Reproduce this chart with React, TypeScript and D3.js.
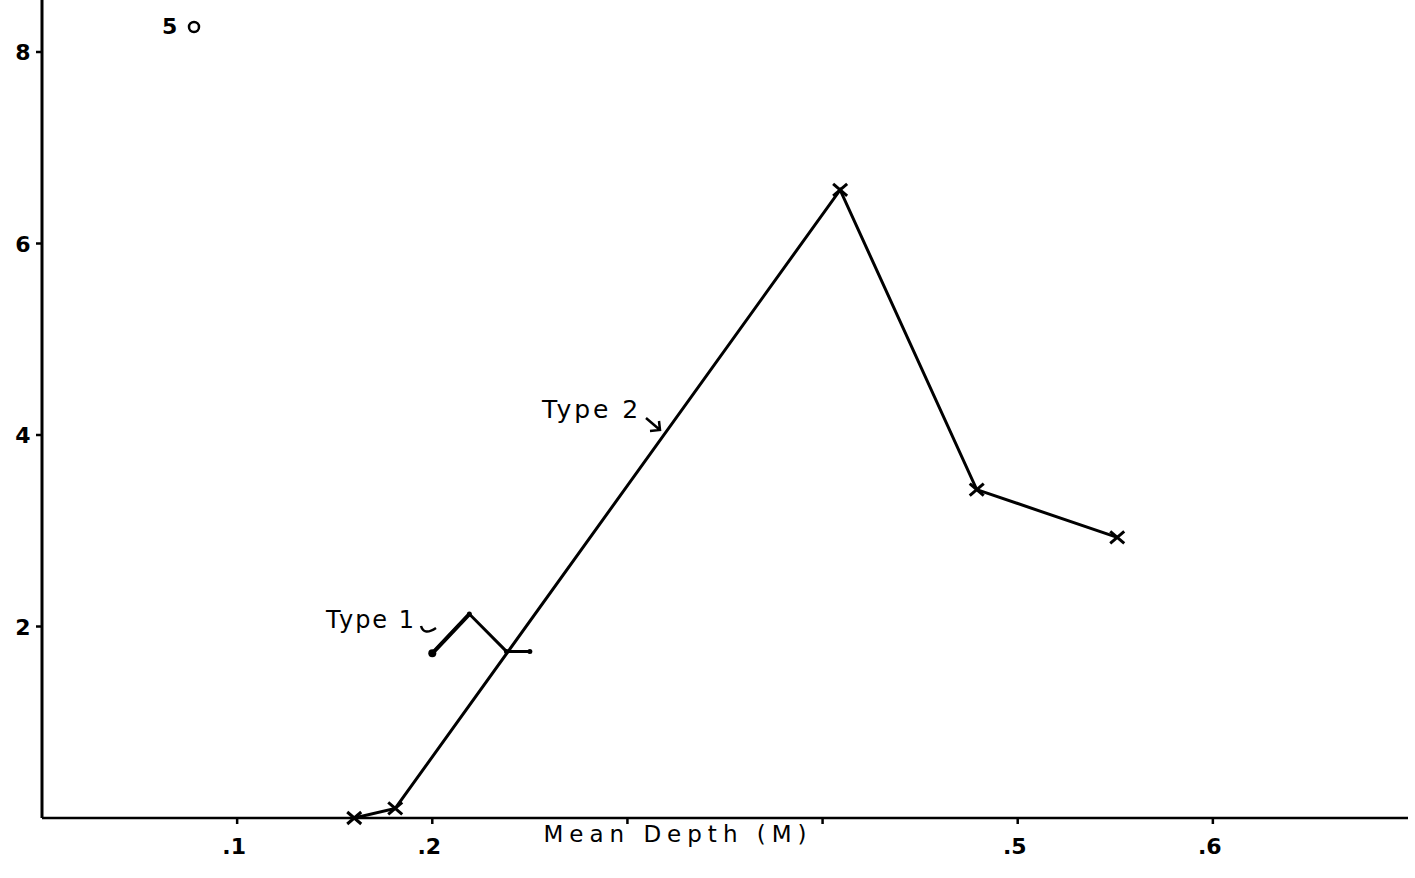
import React from "react";
import * as d3 from "d3";

// Type 2 curve (mean depth in M, value)
const type2Depth = [0.16, 0.181, 0.409, 0.479, 0.551];
const type2Value = [0.0, 0.1, 6.56, 3.43, 2.93];

// Type 1 short curve
const type1Depth = [0.2, 0.219, 0.238, 0.25];
const type1Value = [1.72, 2.13, 1.74, 1.74];

const xTicks = [0.1, 0.2, 0.3, 0.4, 0.5, 0.6];
const xTickLabels = [".1", ".2", "", "", ".5", ".6"];
const yTicks = [2, 4, 6, 8];

const W = 1415;
const H = 878;
const font = "'DejaVu Sans', sans-serif";

export default function App() {
  const x = d3.scaleLinear().domain([0, 0.7]).range([42, 1408]);
  const y = d3.scaleLinear().domain([0, 8]).range([818, 52]);

  const t2 = type2Depth.map((d, i) => [x(d), y(type2Value[i])] as [number, number]);
  const t1 = type1Depth.map((d, i) => [x(d), y(type1Value[i])] as [number, number]);
  const line = d3.line();

  return (
    <svg
      width={W}
      height={H}
      style={{ position: "absolute", left: 0, top: 0, background: "#fff" }}
    >
      {/* axes */}
      <line x1={x(0)} y1={0} x2={x(0)} y2={y(0)} stroke="#000" strokeWidth={3} />
      <line x1={x(0)} y1={y(0)} x2={1408} y2={y(0)} stroke="#000" strokeWidth={2.5} />

      {yTicks.map((t) => (
        <g key={"y" + t}>
          <line x1={x(0) - 6} x2={x(0)} y1={y(t)} y2={y(t)} stroke="#000" strokeWidth={2.5} />
          <text
            x={23}
            y={y(t) + 8}
            textAnchor="middle"
            fontFamily={font}
            fontSize={22}
            fontWeight="bold"
            fill="#000"
          >
            {t}
          </text>
        </g>
      ))}

      {xTicks.map((t, i) => (
        <g key={"x" + t}>
          <line x1={x(t)} x2={x(t)} y1={y(0)} y2={y(0) + 6} stroke="#000" strokeWidth={2.5} />
          {xTickLabels[i] && (
            <text
              x={x(t) - 3}
              y={y(0) + 36}
              textAnchor="middle"
              fontFamily={font}
              fontSize={22}
              fontWeight="bold"
              fill="#000"
            >
              {xTickLabels[i]}
            </text>
          )}
        </g>
      ))}

      <text
        x={678}
        y={842}
        textAnchor="middle"
        fontFamily={font}
        fontSize={23}
        letterSpacing={6}
        fill="#000"
      >
        Mean Depth (M)
      </text>

      <text x={162} y={34} fontFamily={font} fontSize={22} fontWeight="bold" fill="#000">
        5
      </text>
      <circle cx={194} cy={27} r={5} fill="none" stroke="#000" strokeWidth={2.5} />

      {/* Type 2 */}
      <path d={line(t2) || ""} fill="none" stroke="#000" strokeWidth={3} />
      {t2.map(([px, py], i) => (
        <g key={"m" + i} stroke="#000" strokeWidth={3}>
          <line x1={px - 7} y1={py - 6} x2={px + 7} y2={py + 6} />
          <line x1={px - 7} y1={py + 6} x2={px + 7} y2={py - 6} />
        </g>
      ))}

      {/* Type 1 */}
      <path d={line(t1) || ""} fill="none" stroke="#000" strokeWidth={3} />
      <path d={line(t1.slice(0, 2)) || ""} fill="none" stroke="#000" strokeWidth={4} />
      {t1.map(([px, py], i) => (
        <circle key={"d" + i} cx={px} cy={py} r={i === 0 ? 4 : 2.5} fill="#000" />
      ))}

      {/* labels */}
      <text x={542} y={418} fontFamily={font} fontSize={25} letterSpacing={3} fill="#000">
        Type 2
      </text>
      <path d="M646,418 L660,430 M650,431 L660,430 L659,421" fill="none" stroke="#000" strokeWidth={2.5} />

      <text x={326} y={628} fontFamily={font} fontSize={24} letterSpacing={2} fill="#000">
        Type 1
      </text>
      <path d="M421,626 Q424,636 436,628" fill="none" stroke="#000" strokeWidth={2.5} />
    </svg>
  );
}
